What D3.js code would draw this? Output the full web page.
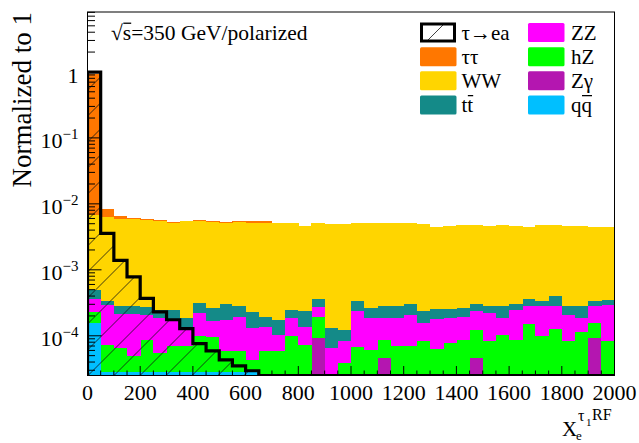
<!DOCTYPE html>
<html>
<head>
<meta charset="utf-8">
<script src="https://cdn.jsdelivr.net/npm/d3@7"></script>
<style>
body { margin: 0; background: #fff; }
</style>
</head>
<body>
<script>
// Set the dimensions of the canvas / frame
var margin = {top: 12, right: 24.5, bottom: 67.5, left: 87.5},
    width = 639 - margin.left - margin.right,
    height = 443 - margin.top - margin.bottom;

var serif = "'Liberation Serif', 'Times New Roman', 'DejaVu Serif', serif";

// Histogram binning
var xMin = 0, xMax = 2000, nBins = 40;
var binWidth = (xMax - xMin) / nBins;
var binLow = d3.range(nBins).map(function(i) { return xMin + i * binWidth; });

// Backgrounds, stacked bottom to top
var qqbar = [1.57e-4, 2.8e-5, 2.8e-5, 2.8e-5, 2.8e-5, 2.8e-5, 2.8e-5, 2.8e-5, 2.8e-5, 2.8e-5,
             2.8e-5, 2.8e-5, 2.8e-5, 0, 0, 0, 0, 0, 0, 0,
             0, 0, 0, 0, 0, 0, 0, 0, 0, 0,
             0, 0, 0, 0, 0, 0, 0, 0, 0, 0];
var zgamma = [0, 0, 0, 0, 0, 0, 0, 0, 0, 0,
              0, 0, 0, 0, 0, 0, 0, 9.2e-5, 0, 0,
              0, 0, 4.6e-5, 0, 0, 0, 0, 0, 0, 4.6e-5,
              0, 0, 0, 0, 0, 0, 0, 0, 9.4e-5, 0];
var hz = [7.0e-5, 4.5e-5, 3.7e-5, 2.1e-5, 5.9e-5, 2.7e-5, 4.1e-5, 4.1e-5, 7.0e-5, 6.7e-5,
          3.0e-5, 3.0e-5, 1.5e-5, 5.8e-5, 5.8e-5, 9.8e-5, 7.3e-5, 1.04e-4, 0, 3.9e-5,
          6.7e-5, 6.1e-5, 4.1e-5, 6.9e-5, 6.9e-5, 8.4e-5, 6.4e-5, 7.8e-5, 8.7e-5, 7.7e-5,
          8.4e-5, 1.04e-4, 8.7e-5, 1.5e-4, 1.0e-4, 1.26e-4, 8.4e-5, 1.16e-4, 6.2e-5, 8.4e-5];
var zz = [1.37e-4, 2.15e-4, 1.51e-4, 1.63e-4, 1.21e-4, 1.32e-4, 1.06e-4, 6.2e-5, 1.23e-4, 7.4e-5,
          1.17e-4, 1.38e-4, 8.8e-5, 8.0e-5, 4.6e-5, 8.9e-5, 6.1e-5, 7.3e-5, 6.5e-5, 4.3e-5,
          1.73e-4, 1.28e-4, 1.02e-4, 1.2e-4, 1.39e-4, 7.5e-5, 1.16e-4, 1.08e-4, 1.09e-4, 1.11e-4,
          1.37e-4, 8.5e-5, 1.61e-4, 1.35e-4, 1.78e-4, 1.59e-4, 1.24e-4, 7.3e-5, 1.22e-4, 2.11e-4];
var ttbar = [1.34e-4, 5.1e-5, 6.2e-5, 6.6e-5, 6.2e-5, 6.1e-5, 7.3e-5, 5.4e-5, 9.2e-5, 9.7e-5,
             1.27e-4, 8.2e-5, 9.8e-5, 5.4e-5, 6.9e-5, 6.1e-5, 1.05e-4, 9.1e-5, 6.8e-5, 4.1e-5,
             9.2e-5, 7.4e-5, 8.9e-5, 8.9e-5, 9.4e-5, 8.0e-5, 7.5e-5, 6.9e-5, 6.7e-5, 6.8e-5,
             6.4e-5, 8.9e-5, 5.4e-5, 7.5e-5, 6.1e-5, 1.19e-4, 7.0e-5, 9.6e-5, 5.3e-5, 5.6e-5];
var ww = [6.31e-3, 5.90e-3, 5.65e-3, 5.54e-3, 5.46e-3, 5.28e-3, 4.91e-3, 5.25e-3, 5.12e-3, 5.07e-3,
          4.86e-3, 5.06e-3, 4.93e-3, 4.97e-3, 4.99e-3, 4.91e-3, 4.45e-3, 4.85e-3, 4.85e-3, 4.86e-3,
          4.77e-3, 4.84e-3, 4.93e-3, 4.93e-3, 4.80e-3, 4.68e-3, 4.28e-3, 4.39e-3, 4.55e-3, 4.51e-3,
          4.40e-3, 4.53e-3, 4.39e-3, 4.17e-3, 4.47e-3, 4.41e-3, 4.41e-3, 4.36e-3, 4.10e-3, 4.08e-3];
var tautau = [0.910, 2.07e-3, 5.4e-4, 2.1e-4, 9e-5, 9e-5, 1.8e-4, 1.0e-4, 1.9e-4, 9e-5,
              9e-5, 9e-5, 3.7e-4, 2.7e-4, 0, 0, 0, 0, 0, 0,
              0, 0, 0, 0, 0, 0, 0, 0, 0, 0,
              0, 0, 0, 0, 0, 0, 0, 0, 0, 0];

// Signal tau -> e a (not stacked)
var signal = [0.99, 3.57e-3, 1.39e-3, 7.8e-4, 3.70e-4, 2.31e-4, 1.75e-4, 1.28e-4, 7.6e-5, 5.9e-5,
              4.3e-5, 3.5e-5, 2.95e-5, 0, 0, 0, 0, 0, 0, 0,
              0, 0, 0, 0, 0, 0, 0, 0, 0, 0,
              0, 0, 0, 0, 0, 0, 0, 0, 0, 0];

// Tick labels
var xTicks = [0, 200, 400, 600, 800, 1000, 1200, 1400, 1600, 1800, 2000];
var yTicks = [1e-4, 1e-3, 1e-2, 1e-1, 1];
var yTickExp = [-4, -3, -2, -1, 0];

// Stack order, colours and legend text
var keys = ["qq", "zgamma", "hz", "zz", "tt", "ww", "tautau"];
var seriesData = {qq: qqbar, zgamma: zgamma, hz: hz, zz: zz, tt: ttbar, ww: ww, tautau: tautau};
var colors = {qq: "#00bfff", zgamma: "#b416b0", hz: "#00ff00", zz: "#ff00ff",
              tt: "#148a88", ww: "#ffd500", tautau: "#ff7700"};
// "~" marks the part that gets a bar on top
var legendCol1 = [["signal", "τ→ea"], ["tautau", "ττ"], ["ww", "WW"], ["tt", "t~t"]];
var legendCol2 = [["zz", "ZZ"], ["hz", "hZ"], ["zgamma", "Zγ"], ["qq", "q~q"]];

var yMin = 2.5e-5, yMax = 8.1;

// Set the ranges
var x = d3.scaleLinear().domain([xMin, xMax]).range([0, width]);
var y = d3.scaleLog().domain([yMin, yMax]).range([height, 0]);
function yc(v) { return y(Math.max(v, yMin)); }

// Adds the svg canvas
var root = d3.select("body").append("svg")
    .attr("width", 639)
    .attr("height", 443)
    .attr("font-family", serif);

var defs = root.append("defs");
defs.append("clipPath").attr("id", "frame")
  .append("rect").attr("width", width).attr("height", height);
var pat = defs.append("pattern")
    .attr("id", "hatch")
    .attr("patternUnits", "userSpaceOnUse")
    .attr("width", 26).attr("height", 26);
pat.append("path")
    .attr("d", "M-3,3 L3,-3 M0,26 L26,0 M23,29 L29,23")
    .attr("stroke", "#111")
    .attr("stroke-width", 0.8);

var svg = root.append("g")
    .attr("transform", "translate(" + margin.left + "," + margin.top + ")");

// Stacked backgrounds
var rows = binLow.map(function(lo, i) {
    var r = {lo: lo};
    keys.forEach(function(k) { r[k] = seriesData[k][i]; });
    return r;
});
var stacked = d3.stack().keys(keys)(rows);

var plot = svg.append("g").attr("clip-path", "url(#frame)");

plot.selectAll("g.layer")
    .data(stacked)
  .enter().append("g")
    .attr("class", "layer")
    .attr("fill", function(d) { return colors[d.key]; })
    .attr("shape-rendering", "crispEdges")
  .selectAll("rect")
    .data(function(d) { return d.filter(function(p) { return p[1] > p[0]; }); })
  .enter().append("rect")
    .attr("x", function(d) { return x(d.data.lo); })
    .attr("width", x(binWidth) - x(0) + 0.3)
    .attr("y", function(d) { return yc(d[1]); })
    .attr("height", function(d) { return yc(d[0]) - yc(d[1]); });

// Signal: hatched area and thick outline
var pts = [[x(xMin), yc(0)]];
binLow.forEach(function(lo, i) {
    pts.push([x(lo), yc(signal[i])]);
    pts.push([x(lo + binWidth), yc(signal[i])]);
});
pts.push([x(xMax), yc(0)]);

var valueline = d3.line();
plot.append("path")
    .attr("d", valueline(pts) + "Z")
    .attr("fill", "url(#hatch)")
    .attr("stroke", "none");
plot.append("path")
    .attr("d", valueline(pts))
    .attr("fill", "none")
    .attr("stroke", "#000")
    .attr("stroke-width", 3.2)
    .attr("stroke-linejoin", "miter");

// Axes: ticks drawn inward, over the histograms
var xMinor = d3.range(xMin, xMax + 1, 50);
svg.append("g").selectAll("line")
    .data(xMinor)
  .enter().append("line")
    .attr("x1", function(d) { return x(d); })
    .attr("x2", function(d) { return x(d); })
    .attr("y1", height)
    .attr("y2", function(d) { return height - (d % 200 === 0 ? 9.5 : 5); })
    .attr("stroke", "#000");

var yMinor = [];
for (var e = -5; e <= 0; e++) {
    for (var m = 2; m <= 9; m++) {
        var v = m * Math.pow(10, e);
        if (v > yMin && v < yMax) yMinor.push(v);
    }
}
svg.append("g").selectAll("line")
    .data(yMinor)
  .enter().append("line")
    .attr("x1", 0).attr("x2", 7.5)
    .attr("y1", function(d) { return y(d); })
    .attr("y2", function(d) { return y(d); })
    .attr("stroke", "#000");
svg.append("g").selectAll("line")
    .data(yTicks)
  .enter().append("line")
    .attr("x1", 0).attr("x2", 14)
    .attr("y1", function(d) { return y(d); })
    .attr("y2", function(d) { return y(d); })
    .attr("stroke", "#000");

// Frame
svg.append("rect")
    .attr("width", width).attr("height", height)
    .attr("fill", "none")
    .attr("stroke", "#000")
    .attr("stroke-width", 1);

// x tick labels
svg.append("g").selectAll("text")
    .data(xTicks)
  .enter().append("text")
    .attr("x", function(d) { return x(d); })
    .attr("y", height + 24.5)
    .style("text-anchor", "middle")
    .style("font-size", "22px")
    .text(function(d) { return d; });

// y tick labels
yTicks.forEach(function(t, i) {
    var lab = svg.append("text")
        .attr("x", -9)
        .style("text-anchor", "end")
        .style("font-size", "22px");
    if (yTickExp[i] === 0) {
        lab.attr("y", y(t) + 11).text("1");
    } else {
        lab.attr("y", y(t) + 10);
        lab.append("tspan").text("10");
        lab.append("tspan")
            .attr("dy", -9)
            .style("font-size", "15px")
            .text("\u2212" + (-yTickExp[i]));
    }
});

// y axis title
root.append("text")
    .attr("transform", "translate(31,12) rotate(-90)")
    .style("text-anchor", "end")
    .style("font-size", "27px")
    .text("Normalized to 1");

// x axis title
root.append("text").attr("x", 562).attr("y", 436).style("font-size", "21px").text("X");
root.append("text").attr("x", 576).attr("y", 440).style("font-size", "13px").text("e");
root.append("text").attr("x", 578).attr("y", 421).style("font-size", "16px").text("τ");
root.append("text").attr("x", 586).attr("y", 426).style("font-size", "11px").text("1");
root.append("text").attr("x", 592).attr("y", 420).style("font-size", "16px").text("RF");

// Text with a bar over the part after "~"
function barredText(g, label, tx, ty, size) {
    var parts = label.split("~");
    var t = g.append("text").attr("x", tx).attr("y", ty).style("font-size", size + "px");
    var first = t.append("tspan").text(parts[0]);
    if (parts.length > 1) {
        var second = t.append("tspan").text(parts[1]);
        var x0 = tx + first.node().getComputedTextLength();
        var w = second.node().getComputedTextLength();
        g.append("line")
            .attr("x1", x0 + 0.5).attr("x2", x0 + w)
            .attr("y1", ty - size * 0.78).attr("y2", ty - size * 0.78)
            .attr("stroke", "#000").attr("stroke-width", 1.3);
    }
    return t;
}

// Energy label
var tg = root.append("g");
var title = barredText(tg, "\u221A~s", 111, 40, 21.5);
title.append("tspan").text("=350 GeV/polarized");

// Legend
var leg = root.append("g");
var rowY = [32.5, 56.8, 80.8, 105];
[[legendCol1, 420, 461.5], [legendCol2, 528, 571]].forEach(function(col) {
    col[0].forEach(function(entry, i) {
        if (entry[0] === "signal") {
            leg.append("rect")
                .attr("x", col[1] + 1.5).attr("y", rowY[i] - 8.5)
                .attr("width", 33).attr("height", 17)
                .attr("fill", "url(#hatch)")
                .attr("stroke", "#000")
                .attr("stroke-width", 3);
        } else {
            leg.append("rect")
                .attr("x", col[1]).attr("y", rowY[i] - 9.5)
                .attr("width", 36.5).attr("height", 19)
                .attr("rx", 1.5)
                .attr("fill", colors[entry[0]]);
        }
        barredText(leg, entry[1], col[2], rowY[i] + 7, 21);
    });
});
</script>
</body>
</html>
